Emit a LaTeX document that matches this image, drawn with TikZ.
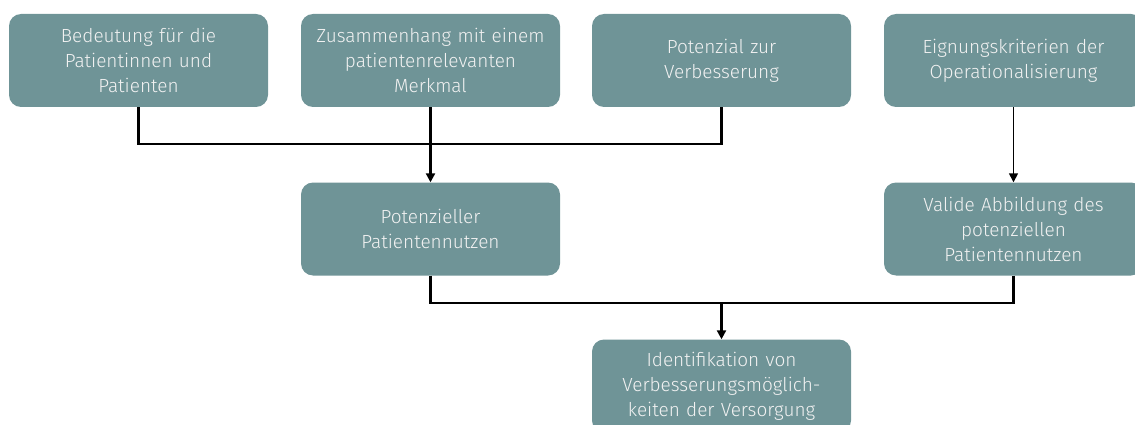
\documentclass[tikz,border=0pt]{standalone}
\usepackage{fontspec}
\setmainfont{Fira Sans}[UprightFont=* Light]
\usetikzlibrary{arrows.meta}
\definecolor{boxfill}{HTML}{6F9497}
\definecolor{boxtext}{HTML}{F2F2F2}
\tikzset{
  box/.style={rectangle, rounded corners=12pt, fill=boxfill, text=boxtext,
    minimum width=259pt, minimum height=93pt, inner sep=0pt, align=center,
    text width=255pt, font=\fontsize{19pt}{25pt}\selectfont},
  conn/.style={draw=black, line width=2.2pt},
  thinconn/.style={draw=black, line width=1.5pt},
  arr/.style={-{Triangle[length=9pt,width=9pt]}}
}
\begin{document}
\begin{tikzpicture}[x=1pt,y=-1pt]
\useasboundingbox (0,0) rectangle (1135,425);
\clip (0,0) rectangle (1135,425);
\node[box] (b1) at (138.5,60.5) {Bedeutung für die\\Patientinnen und\\Patienten};
\node[box] (b2) at (430.5,60.5) {Zusammenhang mit einem\\patientenrelevanten\\Merkmal};
\node[box] (b3) at (721.5,60.5) {Potenzial zur\\Verbesserung};
\node[box] (b4) at (1013.5,60.5) {Eignungskriterien der\\Operationalisierung};
\node[box] (p) at (430.5,229) {Potenzieller\\Patientennutzen};
\node[box] (v) at (1013.5,229) {Valide Abbildung des\\potenziellen\\Patientennutzen};
\node[box] (i) at (721.5,386) {Identifikation von\\Verbesserungsmöglich-\\keiten der Versorgung};
\coordinate (m1) at (430.5,144);
\coordinate (m2) at (721.5,303);
\draw[conn] (b1.south) |- (m1);
\draw[conn] (b3.south) |- (m1);
\draw[conn,arr] (b2.south) -- (p.north);
\draw[thinconn,arr] (b4.south) -- (v.north);
\draw[conn] (p.south) |- (m2);
\draw[conn] (v.south) |- (m2);
\draw[conn,arr] (m2) -- (i.north);
\end{tikzpicture}
\end{document}
